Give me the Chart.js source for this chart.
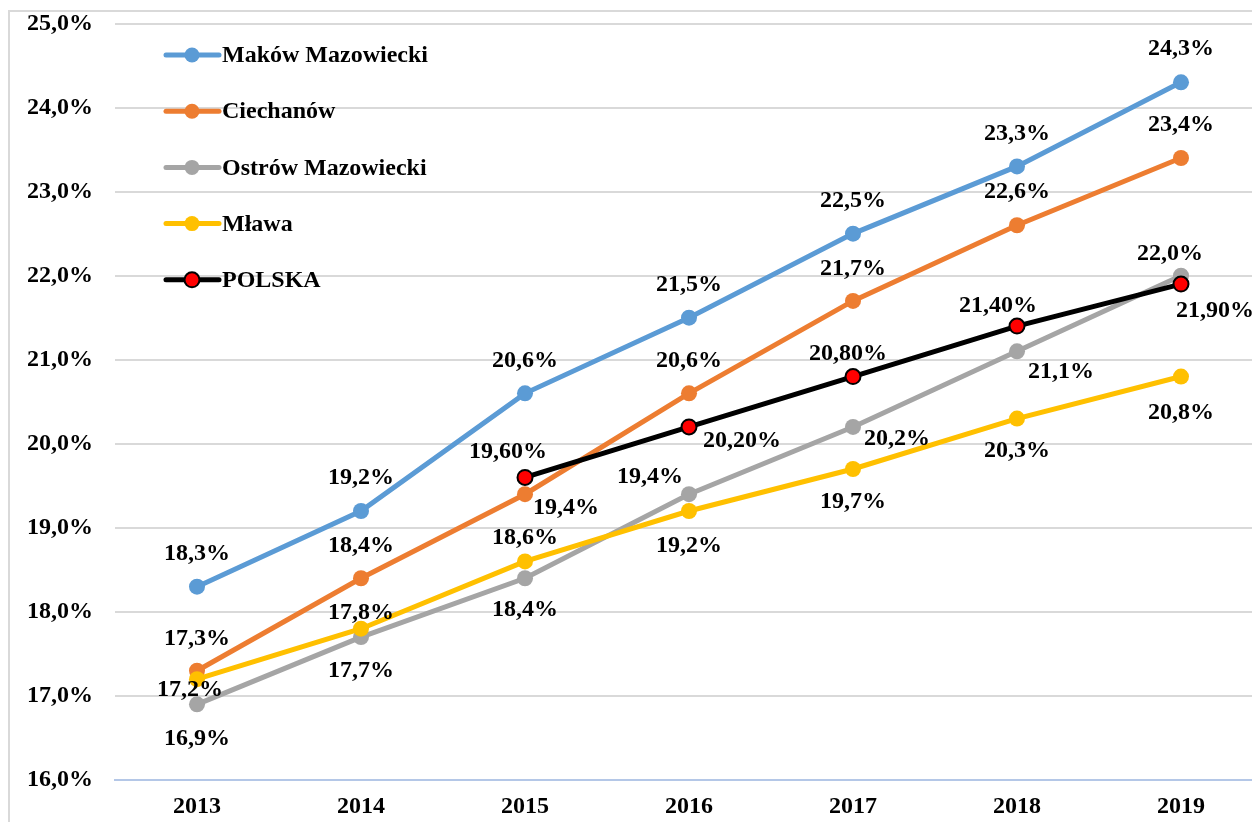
<!DOCTYPE html>
<html>
<head>
<meta charset="utf-8">
<script src="https://cdn.jsdelivr.net/npm/chart.js@4/dist/chart.umd.min.js"></script>
<style>
  html, body { margin: 0; padding: 0; background: #fff; overflow: hidden; }
  #frame { position: absolute; left: 8px; top: 10px; width: 1600px; height: 1200px; border: 2px solid #d9d9d9; }
  #wrap { position: absolute; left: 0; top: 0; }
</style>
</head>
<body>
<div id="frame"></div>
<div id="wrap"><canvas id="chart" width="1280" height="822"></canvas></div>
<script>
// lata
const years = ['2013', '2014', '2015', '2016', '2017', '2018', '2019'];

// wartości w %
const makow = [18.3, 19.2, 20.6, 21.5, 22.5, 23.3, 24.3];
const ciechanow = [17.3, 18.4, 19.4, 20.6, 21.7, 22.6, 23.4];
const ostrow = [16.9, 17.7, 18.4, 19.4, 20.2, 21.1, 22.0];
const mlawa = [17.2, 17.8, 18.6, 19.2, 19.7, 20.3, 20.8];
const polska = [null, null, 19.6, 20.2, 20.8, 21.4, 21.9];

const seriesNames = ['Maków Mazowiecki', 'Ciechanów', 'Ostrów Mazowiecki', 'Mława', 'POLSKA'];

const FONT = 'bold 24px "Liberation Serif", "Times New Roman", serif';

// przesunięcia etykiet (dx, dy) względem punktu
const labelOffsets = [
  [[0,-33],[0,-33],[0,-33],[0,-33],[0,-33],[0,-33],[0,-34]],
  [[0,-32],[0,-32],[41,14],[0,-33],[0,-32],[0,-33],[0,-33]],
  [[0,34],[0,34],[0,32],[-39,-17],[44,12],[44,20],[-11,-22]],
  [[-7,11],[0,-16],[0,-24],[0,35],[0,33],[0,32],[0,36]],
  [null,null,[-17,-26],[53,14],[-5,-23],[-19,-20],[34,27]]
];
const labelDecimals = [1, 1, 1, 1, 2];

const dataLabels = {
  id: 'dataLabels',
  afterDatasetsDraw(chart) {
    const ctx = chart.ctx;
    ctx.save();
    ctx.font = FONT;
    ctx.fillStyle = '#000';
    ctx.textAlign = 'center';
    ctx.textBaseline = 'middle';
    chart.data.datasets.forEach((ds, di) => {
      const meta = chart.getDatasetMeta(di);
      meta.data.forEach((pt, i) => {
        const v = ds.data[i];
        if (v == null) return;
        const off = labelOffsets[di][i] || [0, -32];
        const txt = v.toFixed(labelDecimals[di]).replace('.', ',') + '%';
        ctx.fillText(txt, pt.x + off[0], pt.y + off[1]);
      });
    });
    ctx.restore();
  }
};

// legenda wewnątrz obszaru wykresu
const innerLegend = {
  id: 'innerLegend',
  afterDraw(chart) {
    const ctx = chart.ctx;
    ctx.save();
    ctx.font = FONT;
    ctx.textBaseline = 'middle';
    ctx.textAlign = 'left';
    chart.data.datasets.forEach((ds, i) => {
      const y = 55 + i * 56.2;
      ctx.strokeStyle = ds.borderColor;
      ctx.lineWidth = 5;
      ctx.lineCap = 'round';
      ctx.beginPath();
      ctx.moveTo(166, y);
      ctx.lineTo(219, y);
      ctx.stroke();
      ctx.beginPath();
      ctx.arc(192, y, 7.5, 0, Math.PI * 2);
      ctx.fillStyle = ds.pointBackgroundColor;
      ctx.fill();
      if (ds.pointBorderWidth) {
        ctx.lineWidth = ds.pointBorderWidth;
        ctx.strokeStyle = ds.pointBorderColor;
        ctx.stroke();
      }
      ctx.fillStyle = '#000';
      ctx.fillText(ds.label, 222, y + 1);
    });
    ctx.restore();
  }
};

function line(label, data, color, order) {
  return {
    label: label,
    data: data,
    borderColor: color,
    backgroundColor: color,
    pointBackgroundColor: color,
    pointBorderColor: color,
    pointBorderWidth: 0,
    borderWidth: 5,
    pointRadius: 8,
    tension: 0,
    order: order
  };
}

const datasets = [
  line(seriesNames[0], makow, '#5b9bd5', 5),
  line(seriesNames[1], ciechanow, '#ed7d31', 4),
  line(seriesNames[2], ostrow, '#a5a5a5', 3),
  line(seriesNames[3], mlawa, '#ffc000', 2),
  Object.assign(line(seriesNames[4], polska, '#000000', 1), {
    pointBackgroundColor: '#ff0000',
    pointBorderColor: '#000000',
    pointBorderWidth: 2,
    pointRadius: 7.5
  })
];

new Chart(document.getElementById('chart'), {
  type: 'line',
  data: { labels: years, datasets: datasets },
  plugins: [dataLabels, innerLegend],
  options: {
    responsive: false,
    animation: false,
    layout: { padding: { left: 0, right: 17, top: 0, bottom: 0 } },
    plugins: { legend: { display: false }, tooltip: { enabled: false } },
    scales: {
      x: {
        offset: true,
        grid: { display: false, drawTicks: false },
        border: { color: '#b4c7e7', width: 2 },
        ticks: { color: '#000', font: { family: '"Liberation Serif", serif', size: 24, weight: 'bold' }, padding: 12 },
        afterFit(scale) { scale.height = 42; }
      },
      y: {
        min: 16, max: 25,
        grid: {
          color: (c) => c.tick && c.tick.value === 16 ? 'rgba(0,0,0,0)' : '#d9d9d9',
          lineWidth: 2,
          drawTicks: false
        },
        border: { display: false },
        ticks: {
          stepSize: 1,
          padding: 22,
          color: '#000',
          font: { family: '"Liberation Serif", serif', size: 24, weight: 'bold' },
          callback: (v) => v.toFixed(1).replace('.', ',') + '%'
        },
        afterFit(scale) {
          scale.width = 115;
          scale.paddingTop = 23.5;
          scale.paddingBottom = 0;
        }
      }
    }
  }
});
</script>
</body>
</html>
